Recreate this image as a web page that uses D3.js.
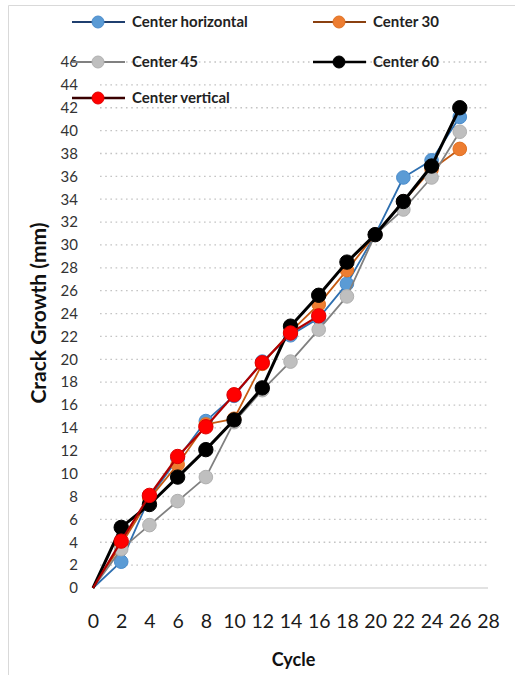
<!DOCTYPE html>
<html>
<head>
<meta charset="utf-8">
<script src="https://cdn.jsdelivr.net/npm/d3@7"></script>
<style>
  html, body { margin: 0; padding: 0; background: #fff; }
  svg { display: block; }
</style>
</head>
<body>
<svg id="chart" width="515" height="675"></svg>
<script>
// ---- data ----
const cycles = [0, 2, 4, 6, 8, 10, 12, 14, 16, 18, 20, 22, 24, 26];
const seriesNames = ["Center horizontal", "Center 30", "Center 45", "Center 60", "Center vertical"];
const centerHorizontal = [0, 2.3, 7.9, 11.3, 14.6, 16.8, 19.8, 22.1, 23.6, 26.6, 30.9, 35.9, 37.4, 41.2];
const center30 = [0, 3.8, 7.8, 10.8, 14.3, 14.8, 19.6, 22.4, 24.8, 27.8, 30.9, 33.8, 36.6, 38.4];
const center45 = [0, 3.4, 5.5, 7.6, 9.7, 14.5, 17.3, 19.8, 22.6, 25.5, 30.9, 33.1, 35.9, 39.9];
const center60 = [0, 5.3, 7.3, 9.7, 12.1, 14.7, 17.5, 22.9, 25.6, 28.5, 30.9, 33.8, 36.9, 42.0];
const centerVertical = [0, 4.1, 8.1, 11.5, 14.1, 16.9, 19.7, 22.3, 23.8];
const xTickValues = [0, 2, 4, 6, 8, 10, 12, 14, 16, 18, 20, 22, 24, 26, 28];
const yTickValues = [0, 2, 4, 6, 8, 10, 12, 14, 16, 18, 20, 22, 24, 26, 28, 30, 32, 34, 36, 38, 40, 42, 44, 46];
const xTitle = "Cycle";
const yTitle = "Crack Growth (mm)";

// ---- styles ----
const styles = [
  { line: "#2e6fb0", fill: "#5b9bd5", stroke: "#4a8ccc", lw: 1.8, r: 6.8 },
  { line: "#c55a11", fill: "#ed7d31", stroke: "#e07020", lw: 1.8, r: 6.8 },
  { line: "#808080", fill: "#bfbfbf", stroke: "#b0b0b0", lw: 1.8, r: 6.8 },
  { line: "#000000", fill: "#000000", stroke: "#000000", lw: 3, r: 7.2 },
  { line: "#b00000", fill: "#ff0000", stroke: "#e00000", lw: 2.2, r: 7.2 }
];
const values = [centerHorizontal, center30, center45, center60, centerVertical];

const svg = d3.select("#chart");
const font = "Lato, 'Open Sans', sans-serif";

// outer chart border (cropped on right / bottom)
svg.append("path")
  .attr("d", "M8.5,675 L8.5,5.5 L515,5.5")
  .attr("fill", "none").attr("stroke", "#d9d9d9").attr("stroke-width", 1);

const x = d3.scaleLinear().domain([0, 28]).range([93, 488]);
const y = d3.scaleLinear().domain([0, 46]).range([588, 62]);

// gridlines
svg.append("g").selectAll("line")
  .data(yTickValues.filter(v => v > 0))
  .join("line")
  .attr("x1", x(0) + 7).attr("x2", x(28))
  .attr("y1", d => y(d)).attr("y2", d => y(d))
  .attr("stroke", "#c4c4c4").attr("stroke-width", 1.3)
  .attr("stroke-dasharray", "1.6,3.6");

// x axis line
svg.append("line")
  .attr("x1", x(0) + 7).attr("x2", x(28))
  .attr("y1", y(0)).attr("y2", y(0))
  .attr("stroke", "#d9d9d9").attr("stroke-width", 1.6);

// y axis labels
const yAxis = d3.axisLeft(y).tickValues(yTickValues).tickSize(0).tickPadding(15);
const gy = svg.append("g").attr("transform", `translate(${x(0)},0)`).call(yAxis);
gy.select(".domain").remove();
gy.selectAll("text").attr("font-family", font).attr("font-size", 15).attr("fill", "#333");

// x axis labels
const xAxis = d3.axisBottom(x).tickValues(xTickValues).tickSize(0).tickPadding(26);
const gx = svg.append("g").attr("transform", `translate(0,${y(0)})`).call(xAxis);
gx.select(".domain").remove();
gx.selectAll("text").attr("font-family", font).attr("font-size", 19.5).attr("fill", "#1a1a1a");

// titles
svg.append("text")
  .attr("x", x(14) + 3).attr("y", 666)
  .attr("text-anchor", "middle")
  .attr("font-family", font).attr("font-weight", "bold").attr("font-size", 18)
  .attr("fill", "#111").text(xTitle);

svg.append("text")
  .attr("transform", `translate(46,${(y(0) + y(46)) / 2 - 12}) rotate(-90)`)
  .attr("text-anchor", "middle")
  .attr("font-family", font).attr("font-weight", "bold").attr("font-size", 21)
  .attr("fill", "#111").text(yTitle);

// series
const line = d3.line().x(d => x(d[0])).y(d => y(d[1]));
values.forEach((vals, i) => {
  const pts = vals.map((v, k) => [cycles[k], v]);
  const s = styles[i];
  const g = svg.append("g");
  g.append("path").datum(pts)
    .attr("d", line).attr("fill", "none")
    .attr("stroke", s.line).attr("stroke-width", s.lw)
    .attr("stroke-linejoin", "round");
  g.selectAll("circle").data(pts.slice(1)).join("circle")
    .attr("cx", d => x(d[0])).attr("cy", d => y(d[1]))
    .attr("r", s.r).attr("fill", s.fill)
    .attr("stroke", s.stroke).attr("stroke-width", 1);
});

// legend
const legCols = [72, 313];
const legRows = [22, 62, 98];
seriesNames.forEach((name, i) => {
  const s = styles[i];
  const lx = legCols[i % 2], ly = legRows[Math.floor(i / 2)];
  const g = svg.append("g");
  g.append("line").attr("x1", lx).attr("x2", lx + 53).attr("y1", ly).attr("y2", ly)
    .attr("stroke", i === 4 ? "#3a0000" : (i === 0 ? "#1f3f6f" : (i === 1 ? "#8a4010" : s.line)))
    .attr("stroke-width", i >= 3 ? 2.6 : 2);
  g.append("circle").attr("cx", lx + 26).attr("cy", ly).attr("r", 6)
    .attr("fill", s.fill).attr("stroke", s.stroke).attr("stroke-width", 1);
  g.append("text").attr("x", lx + 60).attr("y", ly).attr("dy", "0.35em")
    .attr("font-family", font).attr("font-weight", "bold").attr("font-size", 15)
    .attr("fill", "#222").text(name);
});
</script>
</body>
</html>
